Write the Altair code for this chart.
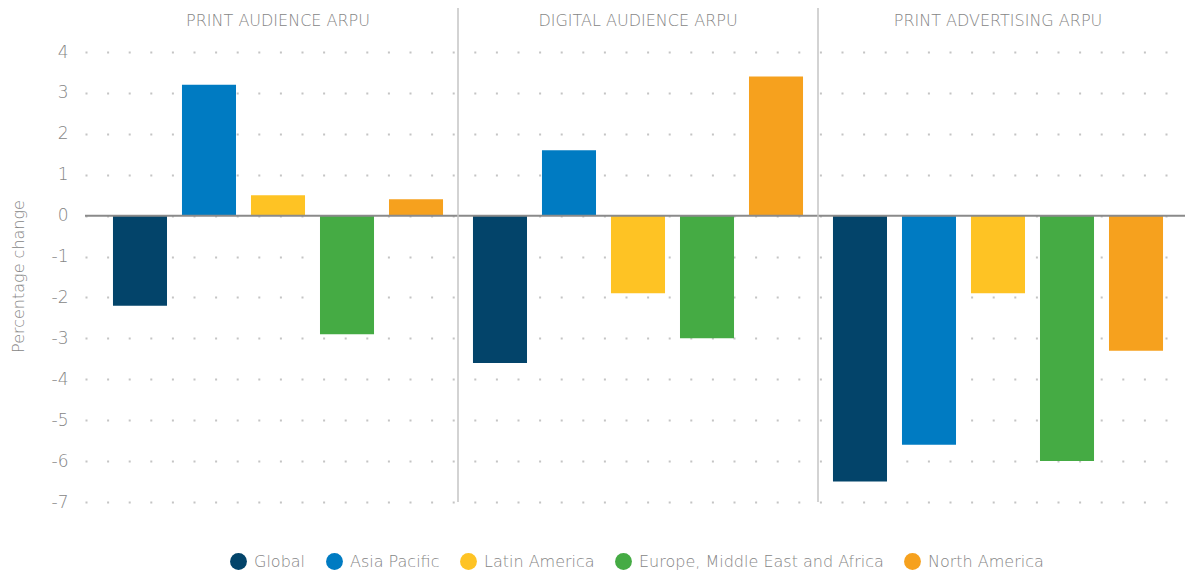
import altair as alt
import pandas as pd

panels = ["PRINT AUDIENCE ARPU", "DIGITAL AUDIENCE ARPU", "PRINT ADVERTISING ARPU"]
regions = ["Global", "Asia Pacific", "Latin America", "Europe, Middle East and Africa", "North America"]
colors = ["#03446a", "#007bc2", "#fec324", "#45ab44", "#f6a11e"]

print_audience = [-2.2, 3.2, 0.5, -2.9, 0.4]
digital_audience = [-3.6, 1.6, -1.9, -3.0, 3.4]
print_advertising = [-6.5, -5.6, -1.9, -6.0, -3.3]
y_ticks = [-7, -6, -5, -4, -3, -2, -1, 0, 1, 2, 3, 4]

rows = []
for p, vals in zip(panels, [print_audience, digital_audience, print_advertising]):
    for r, v in zip(regions, vals):
        rows.append({"panel": p, "region": r, "value": v})
df = pd.DataFrame(rows)
hdr = pd.DataFrame({"panel": panels})
sep = pd.DataFrame({"panel": panels[1:]})
zero = pd.DataFrame({"y": [0]})

FONT = "DejaVu Sans"
W = 200
GRAY = "#858585"

xscale = alt.Scale(domain=panels, paddingInner=0, paddingOuter=0.02778, align=0.65)
x_enc = alt.X("panel:N", sort=panels, scale=xscale, axis=None)
yscale = alt.Scale(domain=[-7, 5.076], nice=False, zero=False)

bars = alt.Chart(df).mark_bar().encode(
    x=x_enc,
    xOffset=alt.XOffset("region:N", sort=regions,
                        scale=alt.Scale(domain=regions, paddingInner=0.217, paddingOuter=0.217)),
    y=alt.Y("value:Q", scale=yscale,
            axis=alt.Axis(values=y_ticks, title="Percentage change", domain=False, ticks=False,
                          labelExpr="'' + datum.value",
                          labelFontSize=17, labelColor=GRAY, labelFont=FONT, labelFontWeight=W,
                          labelPadding=17, titleFont=FONT, titleFontSize=16, titleFontWeight=W,
                          titleColor=GRAY, titleX=-67, titleY=268, titleAngle=-90,
                          titleBaseline="middle", titleAlign="center",
                          grid=True, gridColor="#c4c4c4", gridWidth=2, gridDash=[2, 19.6])),
    color=alt.Color("region:N", sort=regions,
                    scale=alt.Scale(domain=regions, range=colors),
                    legend=alt.Legend(title=None, orient="none", direction="horizontal",
                                      legendX=145, legendY=545,
                                      symbolType="circle", symbolSize=285, symbolStrokeWidth=0,
                                      labelFontSize=16, labelColor=GRAY, labelFont=FONT,
                                      labelFontWeight=W, labelOffset=7, columnPadding=20,
                                      labelLimit=400)),
)

zero_rule = alt.Chart(zero).mark_rule(color="#8a8a8a", strokeWidth=2).encode(y=alt.Y("y:Q", scale=yscale))

separators = alt.Chart(sep).mark_rule(color="#c4c4c4", strokeWidth=1.5).encode(
    x=alt.X("panel:N", sort=panels, scale=xscale, axis=None, bandPosition=0)
)

headers = alt.Chart(hdr).mark_text(font=FONT, fontSize=16, fontWeight=W, color=GRAY,
                                   baseline="middle", align="center").encode(
    x=x_enc, y=alt.value(13), text="panel:N"
)

chart = alt.layer(bars, zero_rule, separators, headers).properties(
    width=1100, height=494,
    autosize=alt.AutoSizeParams(type="none"),
    padding={"left": 77, "top": 0, "right": 0, "bottom": 68},
).configure_view(stroke=None)

chart.save("out.html", embed_options={"renderer": "svg", "actions": False})
